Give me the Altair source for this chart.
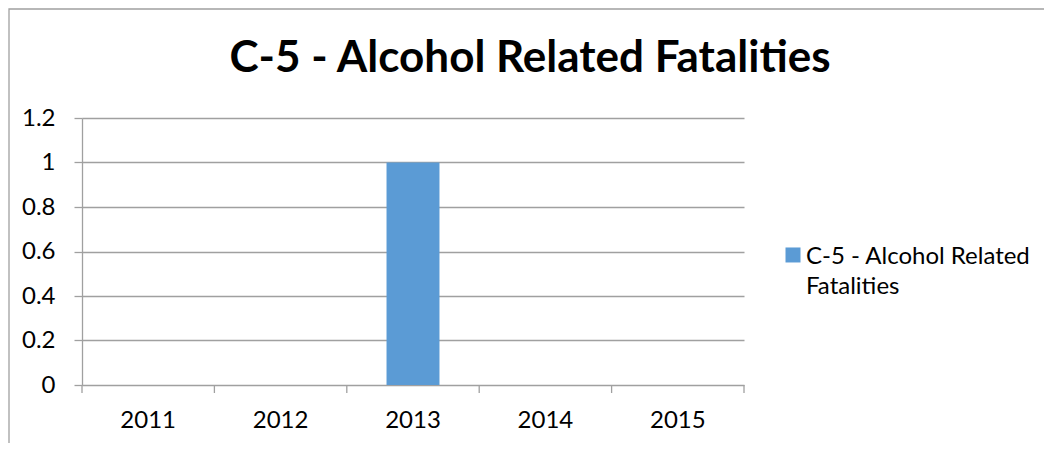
import altair as alt
import pandas as pd

# ---- data ----
years = ["2011", "2012", "2013", "2014", "2015"]
values = [0, 0, 1, 0, 0]
series_name = "C-5 - Alcohol Related Fatalities"
legend_lines = ["C-5 - Alcohol Related", "Fatalities"]
y_ticks = [0, 0.2, 0.4, 0.6, 0.8, 1.0, 1.2]

df = pd.DataFrame({"year": years, "value": values, "series": [series_name] * len(years)})
bounds_df = pd.DataFrame({"b": list(range(len(years) + 1))})
frame_df = pd.DataFrame({"f": [0]})

GRID = "#a0a0a0"
FONT = "Lato"
BLUE = "#5b9bd5"
W, H = 662, 267

bars = alt.Chart(df).mark_bar().encode(
    x=alt.X(
        "year:N",
        sort=years,
        scale=alt.Scale(domain=years, paddingInner=0.6, paddingOuter=0.3),
        axis=alt.Axis(
            title=None, ticks=False, tickSize=0, domain=False, labelAngle=0,
            labelFont=FONT, labelFontSize=24, labelColor="black",
            labelBaseline="middle", labelPadding=35,
        ),
    ),
    y=alt.Y(
        "value:Q",
        scale=alt.Scale(domain=[0, 1.2], nice=False, zero=True),
        axis=alt.Axis(
            title=None, values=y_ticks, format="~g", grid=True,
            gridColor=GRID, gridWidth=1.3, domainColor=GRID, domainWidth=1.3,
            tickColor=GRID, tickWidth=1.3, tickSize=8, labelPadding=19,
            labelFont=FONT, labelFontSize=24, labelColor="black",
        ),
    ),
    color=alt.Color(
        "series:N",
        scale=alt.Scale(domain=[series_name], range=[BLUE]),
        legend=alt.Legend(
            title=None, orient="none", legendX=699, legendY=115,
            symbolType="M-1,0.33H1V2.33H-1Z", symbolSize=225, symbolStrokeWidth=0,
            symbolFillColor=BLUE, labelFont=FONT, labelFontSize=24,
            labelColor="black", labelLimit=400, labelOffset=1, padding=0,
            labelBaseline="top",
            labelExpr="datum.label == '" + series_name + "' ? ['" + legend_lines[0] + "', '" + legend_lines[1] + "'] : datum.label",
        ),
    ),
)

bticks = alt.Chart(bounds_df).mark_rule(color=GRID, strokeWidth=1.3).encode(
    x=alt.X("b:Q", scale=alt.Scale(domain=[0, len(years)], nice=False, zero=False), axis=None),
    y=alt.value(H),
    y2=alt.value(H + 8),
)

frame = alt.Chart(frame_df).mark_rect(fillOpacity=0, stroke=GRID, strokeWidth=1.3).encode(
    x=alt.value(-73), x2=alt.value(1500), y=alt.value(-109), y2=alt.value(800)
)

chart = (
    alt.layer(frame, bars, bticks)
    .resolve_scale(x="independent")
    .properties(
        width=W, height=H,
        padding={"left": 74, "top": 110, "right": 300, "bottom": 58},
        autosize="none",
        title=alt.TitleParams(
            text=series_name, font=FONT, fontSize=44, fontWeight="bold",
            color="black", anchor="middle", frame="group", dx=117,
            baseline="alphabetic", offset=-108,
        ),
    )
    .configure(style={"guide-label": {"lineHeight": 30}}, view={"stroke": "transparent"})
)

chart.save("out.html", embed_options={"renderer": "svg", "actions": False})
